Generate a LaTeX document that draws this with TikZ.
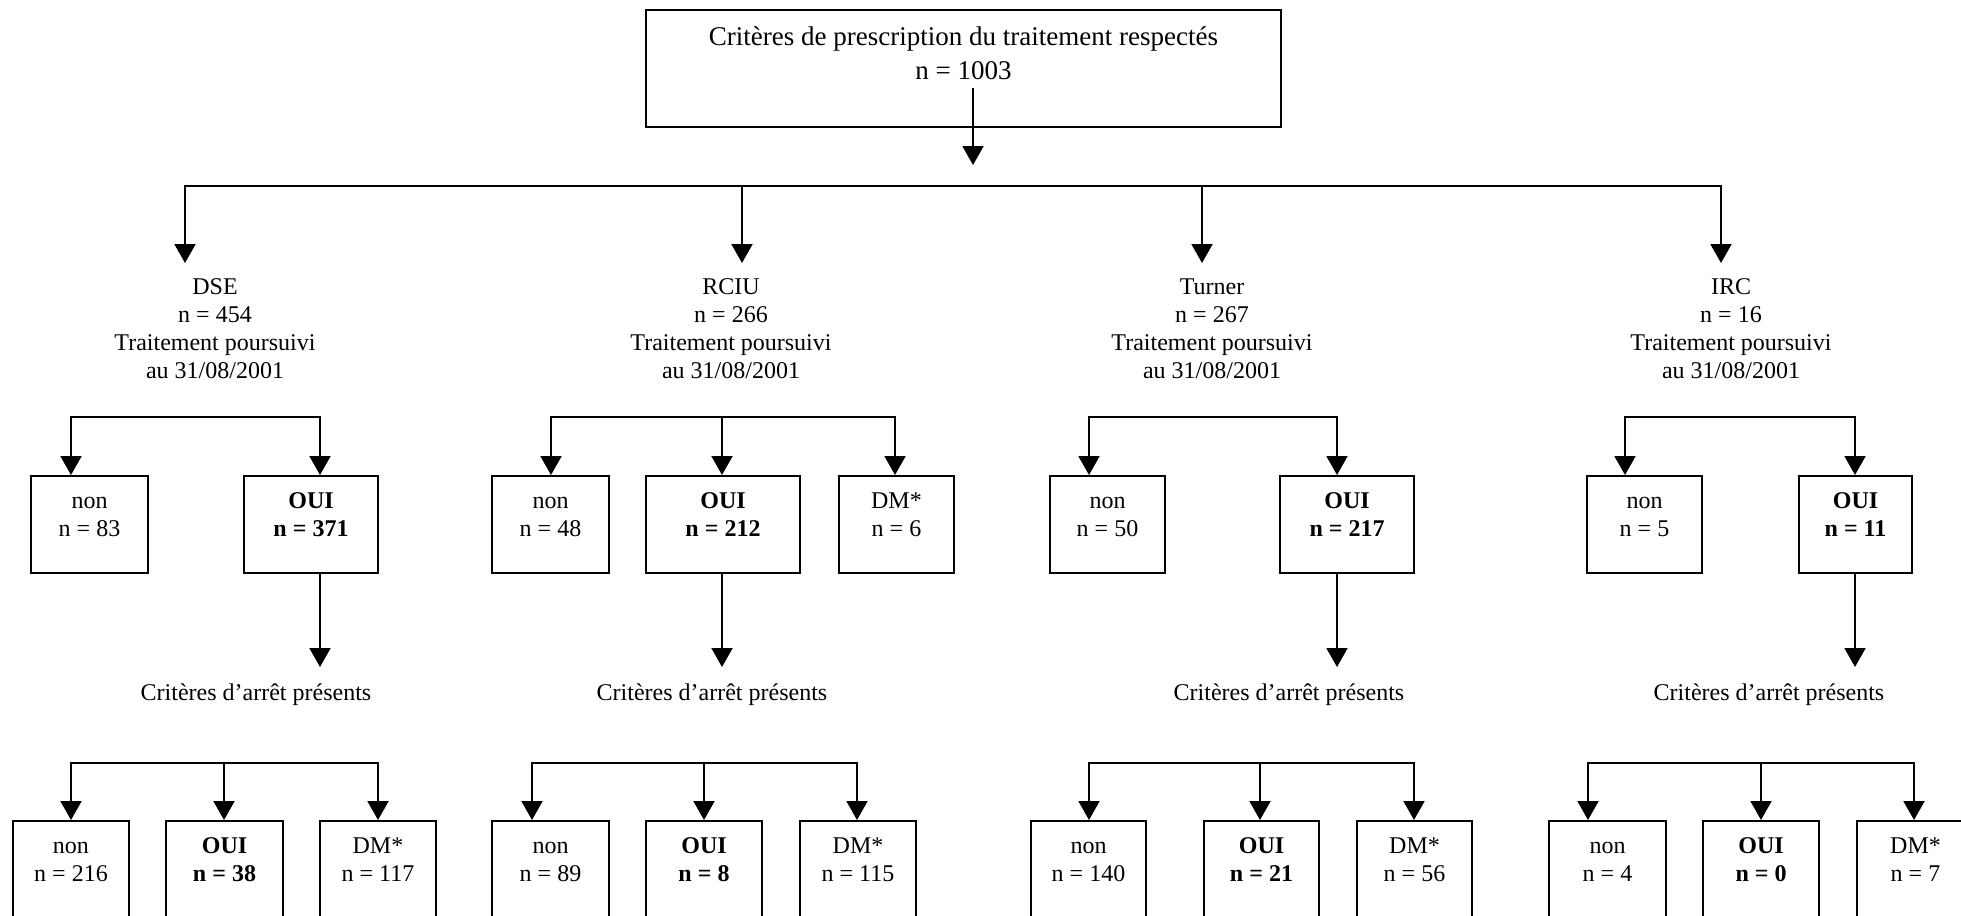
\documentclass[tikz,border=0pt]{standalone}
\usepackage{fontspec}
\setmainfont{Liberation Serif}
\usetikzlibrary{arrows.meta,fit}
\begin{document}
\begin{tikzpicture}[x=0.5pt,y=-0.5pt,
  tip/.style={-{Triangle[length=9.5pt,width=10.5pt]}},
  tips/.style={{Triangle[length=9.5pt,width=10.5pt]}-{Triangle[length=9.5pt,width=10.5pt]}},
  conn/.style={line width=1pt},
  box/.style={draw, line width=1pt, inner sep=0pt, fit={#1}},
  txt/.style={inner sep=0pt, align=center, anchor=north, font=\fontsize{12}{14}\selectfont},
  btxt/.style={txt, font=\fontsize{12}{14}\selectfont\bfseries},
  intxt/.style={txt, yshift=-6.5pt},
  inbold/.style={btxt, yshift=-6.5pt},
  crit/.style={inner sep=0pt, anchor=base, font=\fontsize{12}{14}\selectfont}]
\useasboundingbox (0,0) rectangle (1961,916);
\clip (0,0) rectangle (1961,916);

% top box
\node[box={(646,10) (1281,127)}] (top) {};
\node[txt, font=\fontsize{13.5}{17}\selectfont] (topt) at (963.5,21) {\strut Critères de prescription du traitement respectés\\\strut n = 1003};
\coordinate (s0) at (973,88);
\coordinate (e0) at (973,165);
\draw[conn,tip] (s0) -- (e0);

% level 1
\coordinate (h1) at (185,186);
\coordinate (h2) at (742,186);
\coordinate (h3) at (1202,186);
\coordinate (h4) at (1721,186);
\coordinate (t1) at (185,263);
\coordinate (t2) at (742,263);
\coordinate (t3) at (1202,263);
\coordinate (t4) at (1721,263);
\draw[conn,tips] (t1) -- (h1) -- (h4) -- (t4);
\draw[conn,tip] (h2) -- (t2);
\draw[conn,tip] (h3) -- (t3);

\node[txt] (L1) at (215,274.5) {\strut DSE\\\strut n = 454\\\strut Traitement poursuivi\\\strut au 31/08/2001};
\node[txt] (L2) at (731,274.5) {\strut RCIU\\\strut n = 266\\\strut Traitement poursuivi\\\strut au 31/08/2001};
\node[txt] (L3) at (1212,274.5) {\strut Turner\\\strut n = 267\\\strut Traitement poursuivi\\\strut au 31/08/2001};
\node[txt] (L4) at (1731,274.5) {\strut IRC\\\strut n = 16\\\strut Traitement poursuivi\\\strut au 31/08/2001};

% level 2 boxes
\node[box={(31,476) (148,573)}] (A1) {};
\node[box={(244,476) (378,573)}] (A2) {};
\node[box={(492,476) (609,573)}] (B1) {};
\node[box={(646,476) (800,573)}] (B2) {};
\node[box={(839,476) (954,573)}] (B3) {};
\node[box={(1050,476) (1165,573)}] (C1) {};
\node[box={(1280,476) (1414,573)}] (C2) {};
\node[box={(1587,476) (1702,573)}] (D1) {};
\node[box={(1799,476) (1912,573)}] (D2) {};

\node[intxt] (A1t) at (A1.north) {\strut non\\\strut n = 83};
\node[inbold] (A2t) at (A2.north) {\strut OUI\\\strut n = 371};
\node[intxt] (B1t) at (B1.north) {\strut non\\\strut n = 48};
\node[inbold] (B2t) at (B2.north) {\strut OUI\\\strut n = 212};
\node[intxt] (B3t) at (B3.north) {\strut DM*\\\strut n = 6};
\node[intxt] (C1t) at (C1.north) {\strut non\\\strut n = 50};
\node[inbold] (C2t) at (C2.north) {\strut OUI\\\strut n = 217};
\node[intxt] (D1t) at (D1.north) {\strut non\\\strut n = 5};
\node[inbold] (D2t) at (D2.north) {\strut OUI\\\strut n = 11};

\coordinate (a1) at (71,417);
\coordinate (a2) at (320,417);
\draw[conn,tips] (a1 |- A1.north) -- (a1) -- (a2) -- (a2 |- A2.north);
\coordinate (b1) at (551,417);
\coordinate (b2) at (722,417);
\coordinate (b3) at (895,417);
\draw[conn,tips] (b1 |- B1.north) -- (b1) -- (b3) -- (b3 |- B3.north);
\draw[conn,tip] (b2) -- (b2 |- B2.north);
\coordinate (c1) at (1089,417);
\coordinate (c2) at (1337,417);
\draw[conn,tips] (c1 |- C1.north) -- (c1) -- (c2) -- (c2 |- C2.north);
\coordinate (d1) at (1625,417);
\coordinate (d2) at (1855,417);
\draw[conn,tips] (d1 |- D1.north) -- (d1) -- (d2) -- (d2 |- D2.north);

% arrows down to criteria
\coordinate (ka) at (320,667);
\coordinate (kb) at (722,667);
\coordinate (kc) at (1337,667);
\coordinate (kd) at (1855,667);
\draw[conn,tip] (ka |- A2.south) -- (ka);
\draw[conn,tip] (kb |- B2.south) -- (kb);
\draw[conn,tip] (kc |- C2.south) -- (kc);
\draw[conn,tip] (kd |- D2.south) -- (kd);

\node[crit] (KA) at (256,700) {Critères d'arrêt présents};
\node[crit] (KB) at (712,700) {Critères d'arrêt présents};
\node[crit] (KC) at (1289,700) {Critères d'arrêt présents};
\node[crit] (KD) at (1769,700) {Critères d'arrêt présents};

% level 3 boxes
\node[box={(13,821) (129,960)}] (E1) {};
\node[box={(166,821) (283,960)}] (E2) {};
\node[box={(320,821) (436,960)}] (E3) {};
\node[box={(492,821) (609,960)}] (F1) {};
\node[box={(646,821) (762,960)}] (F2) {};
\node[box={(800,821) (916,960)}] (F3) {};
\node[box={(1031,821) (1146,960)}] (G1) {};
\node[box={(1204,821) (1319,960)}] (G2) {};
\node[box={(1357,821) (1472,960)}] (G3) {};
\node[box={(1549,821) (1666,960)}] (H1) {};
\node[box={(1703,821) (1819,960)}] (H2) {};
\node[box={(1857,821) (1974,960)}] (H3) {};

\node[intxt] (E1t) at (E1.north) {\strut non\\\strut n = 216};
\node[inbold] (E2t) at (E2.north) {\strut OUI\\\strut n = 38};
\node[intxt] (E3t) at (E3.north) {\strut DM*\\\strut n = 117};
\node[intxt] (F1t) at (F1.north) {\strut non\\\strut n = 89};
\node[inbold] (F2t) at (F2.north) {\strut OUI\\\strut n = 8};
\node[intxt] (F3t) at (F3.north) {\strut DM*\\\strut n = 115};
\node[intxt] (G1t) at (G1.north) {\strut non\\\strut n = 140};
\node[inbold] (G2t) at (G2.north) {\strut OUI\\\strut n = 21};
\node[intxt] (G3t) at (G3.north) {\strut DM*\\\strut n = 56};
\node[intxt] (H1t) at (H1.north) {\strut non\\\strut n = 4};
\node[inbold] (H2t) at (H2.north) {\strut OUI\\\strut n = 0};
\node[intxt] (H3t) at (H3.north) {\strut DM*\\\strut n = 7};

\coordinate (e1) at (71,763);
\coordinate (e2) at (224,763);
\coordinate (e3) at (378,763);
\draw[conn,tips] (e1 |- E1.north) -- (e1) -- (e3) -- (e3 |- E3.north);
\draw[conn,tip] (e2) -- (e2 |- E2.north);
\coordinate (f1) at (532,763);
\coordinate (f2) at (704,763);
\coordinate (f3) at (857,763);
\draw[conn,tips] (f1 |- F1.north) -- (f1) -- (f3) -- (f3 |- F3.north);
\draw[conn,tip] (f2) -- (f2 |- F2.north);
\coordinate (m1) at (1089,763);
\coordinate (m2) at (1260,763);
\coordinate (m3) at (1414,763);
\draw[conn,tips] (m1 |- G1.north) -- (m1) -- (m3) -- (m3 |- G3.north);
\draw[conn,tip] (m2) -- (m2 |- G2.north);
\coordinate (p1) at (1588,763);
\coordinate (p2) at (1761,763);
\coordinate (p3) at (1914,763);
\draw[conn,tips] (p1 |- H1.north) -- (p1) -- (p3) -- (p3 |- H3.north);
\draw[conn,tip] (p2) -- (p2 |- H2.north);
\end{tikzpicture}
\end{document}
